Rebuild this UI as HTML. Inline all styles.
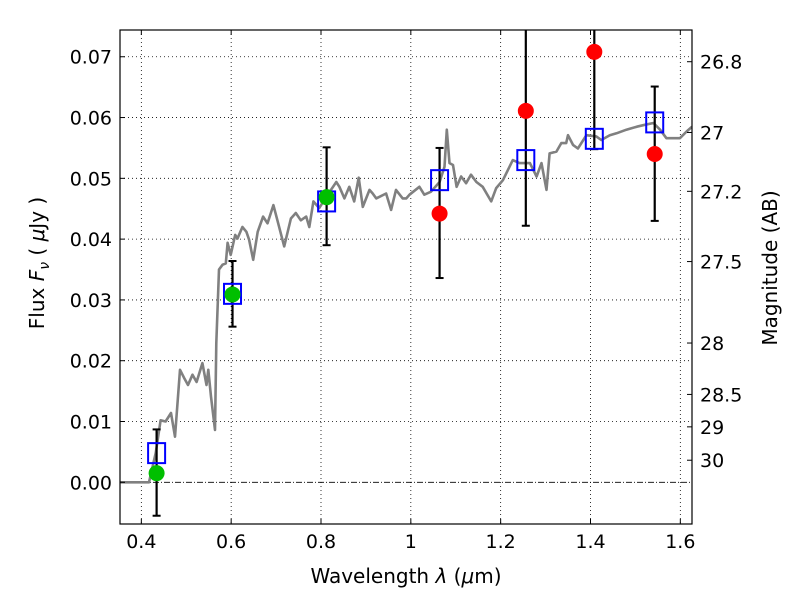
<!DOCTYPE html>
<html><head><meta charset="utf-8"><style>
body{margin:0;background:#fff;}
svg{display:block;font-family:"DejaVu Sans","Liberation Sans",sans-serif;}
</style></head><body>
<svg id="chart" width="800" height="600" viewBox="0 0 800 600">
<rect x="0" y="0" width="800" height="600" fill="#fff"/>
<g id="grid"></g>
<g id="plot"></g>
<g id="axes"></g>
</svg>
<script>
const xTicks = [0.4, 0.6, 0.8, 1.0, 1.2, 1.4, 1.6];
const xTickLabels = ["0.4", "0.6", "0.8", "1", "1.2", "1.4", "1.6"];
const yTicks = [0.00, 0.01, 0.02, 0.03, 0.04, 0.05, 0.06, 0.07];
const yTickLabels = ["0.00", "0.01", "0.02", "0.03", "0.04", "0.05", "0.06", "0.07"];
const magTicks = [26.8, 27, 27.2, 27.5, 28, 28.5, 29, 30];
const magTickLabels = ["26.8", "27", "27.2", "27.5", "28", "28.5", "29", "30"];

const modelWave = [0.350,0.417,0.432,0.443,0.454,0.466,0.475,0.486,0.495,0.504,0.514,0.523,0.536,0.545,0.549,0.555,0.564,0.567,0.573,0.581,0.588,0.592,0.599,0.609,0.614,0.625,0.634,0.640,0.649,0.659,0.671,0.681,0.694,0.703,0.718,0.733,0.744,0.755,0.767,0.774,0.783,0.796,0.815,0.834,0.841,0.852,0.863,0.874,0.884,0.893,0.908,0.915,0.923,0.945,0.956,0.967,0.982,0.990,0.997,1.019,1.030,1.045,1.064,1.075,1.080,1.086,1.094,1.102,1.112,1.123,1.134,1.146,1.160,1.179,1.190,1.205,1.227,1.242,1.265,1.280,1.291,1.302,1.309,1.324,1.335,1.346,1.350,1.361,1.372,1.391,1.413,1.424,1.443,1.458,1.480,1.503,1.521,1.540,1.555,1.569,1.599,1.614,1.626];
const modelFlux = [0.0000,0.0000,0.0048,0.0102,0.0100,0.0114,0.0075,0.0185,0.0172,0.0160,0.0177,0.0165,0.0196,0.0160,0.0185,0.0141,0.0086,0.0229,0.0350,0.0358,0.0360,0.0394,0.0374,0.0407,0.0401,0.0420,0.0412,0.0399,0.0366,0.0412,0.0437,0.0426,0.0456,0.0431,0.0388,0.0434,0.0443,0.0431,0.0437,0.0420,0.0462,0.0451,0.0473,0.0494,0.0486,0.0467,0.0486,0.0462,0.0501,0.0453,0.0481,0.0475,0.0467,0.0475,0.0448,0.0481,0.0467,0.0467,0.0473,0.0486,0.0473,0.0478,0.0494,0.0519,0.0580,0.0525,0.0522,0.0486,0.0503,0.0492,0.0506,0.0494,0.0486,0.0462,0.0484,0.0497,0.0530,0.0525,0.0525,0.0503,0.0525,0.0481,0.0541,0.0544,0.0558,0.0558,0.0571,0.0555,0.0549,0.0571,0.0569,0.0563,0.0571,0.0574,0.0580,0.0585,0.0588,0.0591,0.0580,0.0566,0.0566,0.0577,0.0585];

const bandWave = [0.434, 0.603, 0.8125, 1.064, 1.256, 1.4085, 1.543];
const modelBandFlux = [0.0048, 0.0310, 0.0462, 0.0497, 0.0530, 0.0565, 0.0592];
const obsFlux = [0.0015, 0.0309, 0.0469, 0.0442, 0.0611, 0.0708, 0.0540];
const obsErrLow = [-0.0055, 0.0256, 0.0390, 0.0336, 0.0422, 0.0548, 0.0430];
const obsErrHigh = [0.0087, 0.0364, 0.0551, 0.0550, 0.0800, 0.0870, 0.0651];
const obsDetected = [true, true, true, false, false, false, false];

const L=120, R=692, T=30, B=524;
const xMin=0.3525, xMax=1.626, yMin=-0.00686, yMax=0.0744;
const sx = v => L + (v - xMin) / (xMax - xMin) * (R - L);
const sy = v => B - (v - yMin) / (yMax - yMin) * (B - T);
const NS="http://www.w3.org/2000/svg";
function mk(tag, attrs, parent){const e=document.createElementNS(NS,tag);for(const k in attrs)e.setAttribute(k,attrs[k]);parent.appendChild(e);return e;}
const grid=document.getElementById('grid'), plot=document.getElementById('plot'), axes=document.getElementById('axes');

// clip
const defs=mk('defs',{},document.getElementById('chart'));
const cp=mk('clipPath',{id:'clip'},defs); mk('rect',{x:L,y:T,width:R-L,height:B-T},cp);
plot.setAttribute('clip-path','url(#clip)');

xTicks.forEach((t,i)=>{
  const x=sx(t);
  const g=mk('line',{x1:x,x2:x,y1:T,y2:B,stroke:'#000','stroke-width':0.8,'stroke-dasharray':'1,3'},grid);
  
  
  mk('line',{x1:x,x2:x,y1:B,y2:B-5,stroke:'#000','stroke-width':1},axes);
  mk('line',{x1:x,x2:x,y1:T,y2:T+5,stroke:'#000','stroke-width':1},axes);
  const tx=mk('text',{x:x,y:B+24,'font-size':19,'text-anchor':'middle'},axes);
  tx.textContent=xTickLabels[i];
  
  
});
yTicks.forEach((t,i)=>{
  const y=sy(t);
  const g=mk('line',{x1:L,x2:R,y1:y,y2:y,stroke:'#000','stroke-width':0.8,'stroke-dasharray':t===0?'6,2,1,2':'1,3'},grid);
  
  
  mk('line',{x1:L,x2:L+5,y1:y,y2:y,stroke:'#000','stroke-width':1},axes);
  const tx=mk('text',{x:L-8,y:y+7,'font-size':19,'text-anchor':'end'},axes);
  tx.textContent=yTickLabels[i];
  
  
});
magTicks.forEach((m,i)=>{
  const f=Math.pow(10,(23.9-m)/2.5)/1000*1000/1000; // microJy -> converted below
  const fl=Math.pow(10,(23.9-m)/2.5);
  const y=sy(fl);
  mk('line',{x1:R-5,x2:R,y1:y,y2:y,stroke:'#000','stroke-width':1},axes);
  const tx=mk('text',{x:R+8,y:y+7,'font-size':19,'text-anchor':'start'},axes);
  tx.textContent=magTickLabels[i];
  
  
});

// model line
let d='';
modelWave.forEach((w,i)=>{d+=(i?'L':'M')+sx(w).toFixed(1)+','+sy(modelFlux[i]).toFixed(1);});
const ml=mk('path',{d:d,fill:'none',stroke:'#808080','stroke-width':2.6,'stroke-linejoin':'round'},plot);



// error bars
bandWave.forEach((w,i)=>{
  const x=sx(w), y1=sy(obsErrLow[i]), y2=sy(obsErrHigh[i]);
  const e=mk('line',{x1:x,x2:x,y1:y1,y2:y2,stroke:'#000','stroke-width':2.2},plot);
  
  
  mk('line',{x1:x-4,x2:x+4,y1:y1,y2:y1,stroke:'#000','stroke-width':2},plot);
  mk('line',{x1:x-4,x2:x+4,y1:y2,y2:y2,stroke:'#000','stroke-width':2},plot);
});
// model band squares
bandWave.forEach((w,i)=>{
  const x=sx(w), y=sy(modelBandFlux[i]);
  const s=mk('rect',{x:x-8.5,y:y-10,width:17,height:20,fill:'none',stroke:'#0000ff','stroke-width':2},plot);
  
  
});
// observed points
bandWave.forEach((w,i)=>{
  const c=mk('circle',{cx:sx(w),cy:sy(obsFlux[i]),r:8,fill:obsDetected[i]?'#00bf00':'#ff0000'},plot);
  
  
});

// frame
const fr=mk('rect',{x:L,y:T,width:R-L,height:B-T,fill:'none',stroke:'#000','stroke-width':1.2},axes);



const xl=mk('text',{x:406,y:583,'font-size':20,'text-anchor':'middle'},axes);
xl.innerHTML='Wavelength  <tspan font-style="italic">λ</tspan> (<tspan font-style="italic">μ</tspan>m)';


const yl=mk('text',{x:0,y:0,'font-size':20,'text-anchor':'middle',transform:'translate(44,263) rotate(-90)'},axes);
yl.innerHTML='Flux  <tspan font-style="italic">F</tspan><tspan font-style="italic" font-size="14" dy="5">ν</tspan><tspan dy="-5">  ( </tspan><tspan font-style="italic">μ</tspan>Jy )';


const rl=mk('text',{x:0,y:0,'font-size':20,'text-anchor':'middle',transform:'translate(777,268) rotate(-90)'},axes);
rl.textContent='Magnitude (AB)';


</script>
</body></html>
